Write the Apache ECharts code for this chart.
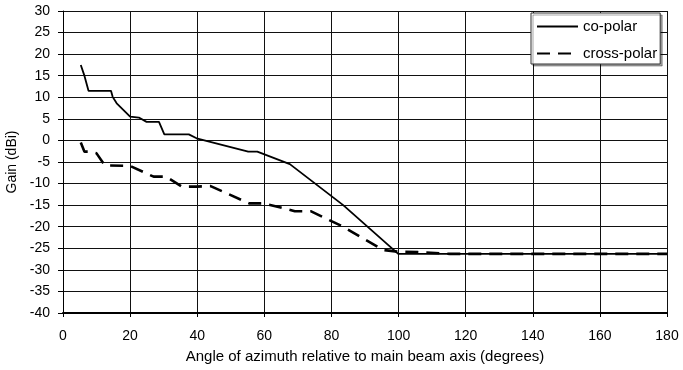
<!DOCTYPE html>
<html>
<head>
<meta charset="utf-8">
<script src="https://cdn.jsdelivr.net/npm/echarts@6/dist/echarts.min.js"></script>
<style>
  html, body { margin: 0; padding: 0; background: #fff; }
  #chart { width: 683px; height: 370px; }
</style>
</head>
<body>
<div id="chart"></div>
<script>
// angle (deg), gain (dBi)
var coPolar = [
  [5.3, 17.5], [6.3, 15.2], [7.6, 11.5], [14.3, 11.5], [14.8, 10.1], [16, 8.6],
  [20, 5.5], [22.6, 5.3], [24.9, 4.3], [28.6, 4.3], [30.2, 1.4], [37.5, 1.4],
  [39.8, 0.5], [55.2, -2.6], [57.9, -2.6], [67.6, -5.5], [83.5, -15],
  [99.9, -26.3], [180, -26.3]
]
var crossPolar = [
  [5.3, -0.5], [6.4, -2.6], [8.2, -2.6], [10, -3], [12.5, -5.8], [20, -5.9],
  [27, -8.4], [30.7, -8.4], [35.4, -10.7], [39.8, -10.7], [42.5, -10.6], [44, -10.6],
  [55.5, -14.6], [59.9, -14.6], [69.1, -16.4], [73.8, -16.4], [83.5, -20],
  [95.4, -25.4], [99.9, -25.8], [105.8, -25.9], [115.3, -26.3], [180, -26.3]
]
var seriesNames = ['co-polar', 'cross-polar']
var xName = 'Angle of azimuth relative to main beam axis (degrees)'
var yName = 'Gain (dBi)'

var font = 'Liberation Sans, Arial, sans-serif'
var myChart = echarts.init(document.getElementById('chart'))
myChart.setOption({
  animation: false,
  grid: { left: 63, right: 16, top: 11, bottom: 57, containLabel: false, outerBoundsMode: 'none' },
  legend: {
    data: seriesNames,
    orient: 'vertical',
    left: 531,
    top: 13,
    padding: [6, 3, 3, 5],
    itemWidth: 41,
    itemHeight: 14,
    itemGap: 12,
    itemStyle: { opacity: 0 },
    backgroundColor: '#fff',
    borderColor: '#333',
    borderWidth: 1,
    shadowColor: 'rgba(0,0,0,0.35)',
    shadowOffsetX: 2,
    shadowOffsetY: 2,
    textStyle: { fontFamily: font, fontSize: 15, color: '#000', padding: [0, 0, 0, 0] }
  },
  xAxis: {
    type: 'value',
    min: 0,
    max: 180,
    interval: 20,
    name: xName,
    nameLocation: 'middle',
    nameGap: 36,
    nameTextStyle: { fontFamily: font, fontSize: 15, color: '#000' },
    axisLine: { onZero: false, lineStyle: { color: '#000', width: 2 } },
    axisTick: { length: 4, lineStyle: { color: '#000' } },
    axisLabel: { fontFamily: font, fontSize: 14, color: '#000', margin: 16 },
    splitLine: { show: true, lineStyle: { color: '#111', width: 1 } }
  },
  yAxis: {
    type: 'value',
    min: -40,
    max: 30,
    interval: 5,
    name: yName,
    nameLocation: 'middle',
    nameGap: 33,
    nameTextStyle: { fontFamily: font, fontSize: 14, color: '#000' },
    axisLine: { show: true, lineStyle: { color: '#000', width: 1 } },
    axisTick: { show: true, length: 5, lineStyle: { color: '#000' } },
    axisLabel: { fontFamily: font, fontSize: 14, color: '#000', margin: 13 },
    splitLine: { show: true, lineStyle: { color: '#111', width: 1 } }
  },
  series: [
    {
      name: seriesNames[0],
      type: 'line',
      data: coPolar,
      symbol: 'none',
      color: '#000',
      lineStyle: { color: '#000', width: 1.8 }
    },
    {
      name: seriesNames[1],
      type: 'line',
      data: crossPolar,
      symbol: 'none',
      color: '#000',
      lineStyle: { color: '#000', width: 2.6, type: [13, 8] }
    }
  ]
})
</script>
</body>
</html>
